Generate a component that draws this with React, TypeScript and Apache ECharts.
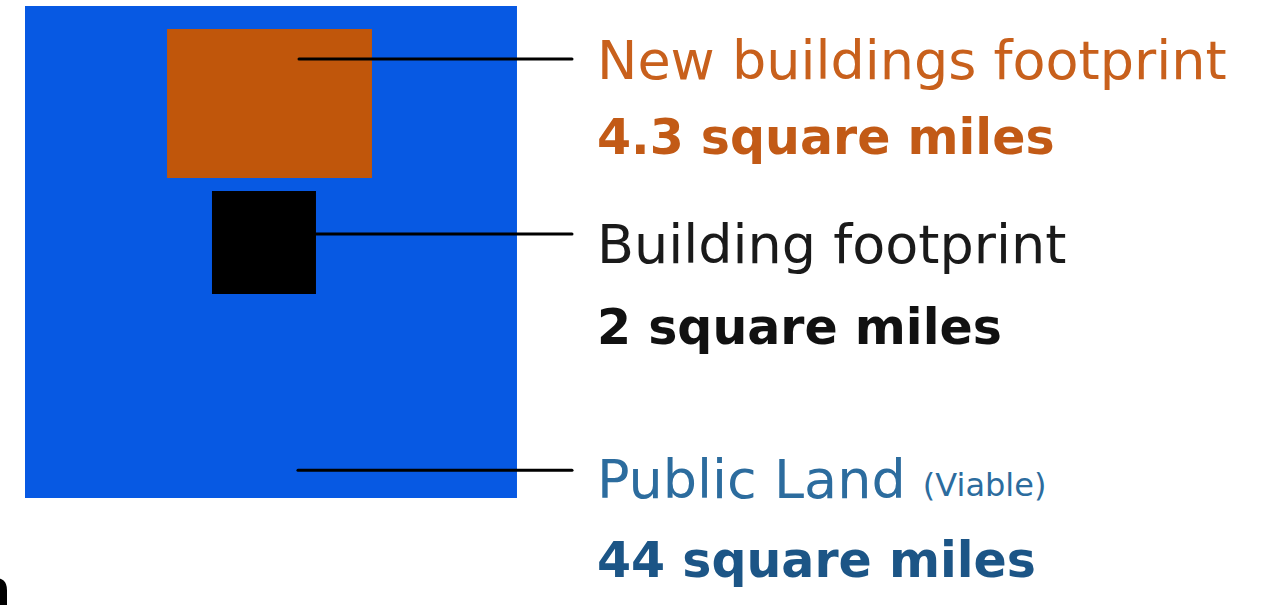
import React, { useEffect, useRef } from "react";
import * as echarts from "echarts";

// Data
const categories = ["Public Land", "New buildings footprint", "Building footprint"];
const categoryNotes = ["(Viable)", "", ""];
const areaSqMi = [44, 4.3, 2];
const valueLabels = ["44 square miles", "4.3 square miles", "2 square miles"];
// rectangle extents in miles, measured from the top-left corner of the public land square
const rectX0 = [0, 1.915, 2.521];
const rectY0 = [0, 0.31, 2.494];
const rectX1 = [6.633, 4.678, 3.923];
const rectY1 = [6.633, 2.319, 3.883];
// leader line start points (miles)
const leaderX = [3.68, 3.694, 3.923];
const leaderY = [6.26, 0.715, 3.074];
const leaderEndX = 7.375;

const fillColors = ["#0759E3", "#C0560B", "#000000"];
const nameColors = ["#2C6C9E", "#C8601C", "#1a1a1a"];
const valueColors = ["#1C5586", "#C25A16", "#111111"];
const nameY = [479, 60, 244];
const valueY = [560, 137, 327];
const FONT = "DejaVu Sans";

export default function App() {
  const ref = useRef<HTMLDivElement>(null);
  useEffect(() => {
    if (!ref.current) return;
    const chart = echarts.init(ref.current, undefined, { renderer: "svg" });
    const side = Math.sqrt(areaSqMi[0]);
    const rectData = categories.map((c, i) => ({
      name: c,
      value: [rectX0[i], rectY0[i], rectX1[i], rectY1[i], areaSqMi[i]],
    }));
    const lineData = categories.map((c, i) => ({
      name: c,
      value: [leaderX[i], leaderY[i], leaderEndX, leaderY[i]],
    }));
    const graphics: any[] = [];
    categories.forEach((c, i) => {
      graphics.push({
        type: "text",
        x: 597,
        y: nameY[i],
        style: {
          rich: {
            n: { fontFamily: FONT, fontSize: 54, fill: nameColors[i], fontWeight: "normal" },
            s: { fontFamily: FONT, fontSize: 32, fill: nameColors[i], fontWeight: "normal", padding: [12, 0, 0, 0] },
          },
          text: categoryNotes[i] ? `{n|${c} }{s|${categoryNotes[i]}}` : `{n|${c}}`,
          verticalAlign: "middle",
        },
      });
      graphics.push({
        type: "text",
        x: 597,
        y: valueY[i],
        style: {
          text: valueLabels[i],
          fontFamily: FONT,
          fontSize: 49,
          fontWeight: "bold",
          fill: valueColors[i],
          verticalAlign: "middle",
        },
      });
    });
    graphics.push({
      type: "text",
      x: -24,
      y: 588,
      style: { text: "a", fontFamily: FONT, fontSize: 52, fontWeight: "bold", fill: "#000", verticalAlign: "middle" },
    });
    chart.setOption({
      animation: false,
      grid: { left: 25, top: 6, width: 492, height: 492 },
      xAxis: { type: "value", min: 0, max: side, show: false },
      yAxis: { type: "value", min: 0, max: side, inverse: true, show: false },
      series: [
        {
          type: "custom",
          clip: false,
          data: rectData,
          renderItem: (params: any, api: any) => {
            const p0 = api.coord([api.value(0), api.value(1)]);
            const p1 = api.coord([api.value(2), api.value(3)]);
            return {
              type: "rect",
              shape: { x: p0[0], y: p0[1], width: p1[0] - p0[0], height: p1[1] - p0[1] },
              style: { fill: fillColors[params.dataIndex] },
            };
          },
        },
        {
          type: "custom",
          clip: false,
          z: 5,
          data: lineData,
          renderItem: (params: any, api: any) => {
            const p0 = api.coord([api.value(0), api.value(1)]);
            const p1 = api.coord([api.value(2), api.value(3)]);
            return {
              type: "line",
              shape: { x1: p0[0], y1: p0[1], x2: p1[0], y2: p1[1] },
              style: { stroke: "#000", lineWidth: 3, lineCap: "round" },
            };
          },
        },
      ],
      graphic: graphics,
    });
    return () => chart.dispose();
  }, []);
  return (
    <div
      ref={ref}
      style={{ position: "fixed", left: 0, top: 0, width: 1281, height: 605, background: "#fff" }}
    />
  );
}
